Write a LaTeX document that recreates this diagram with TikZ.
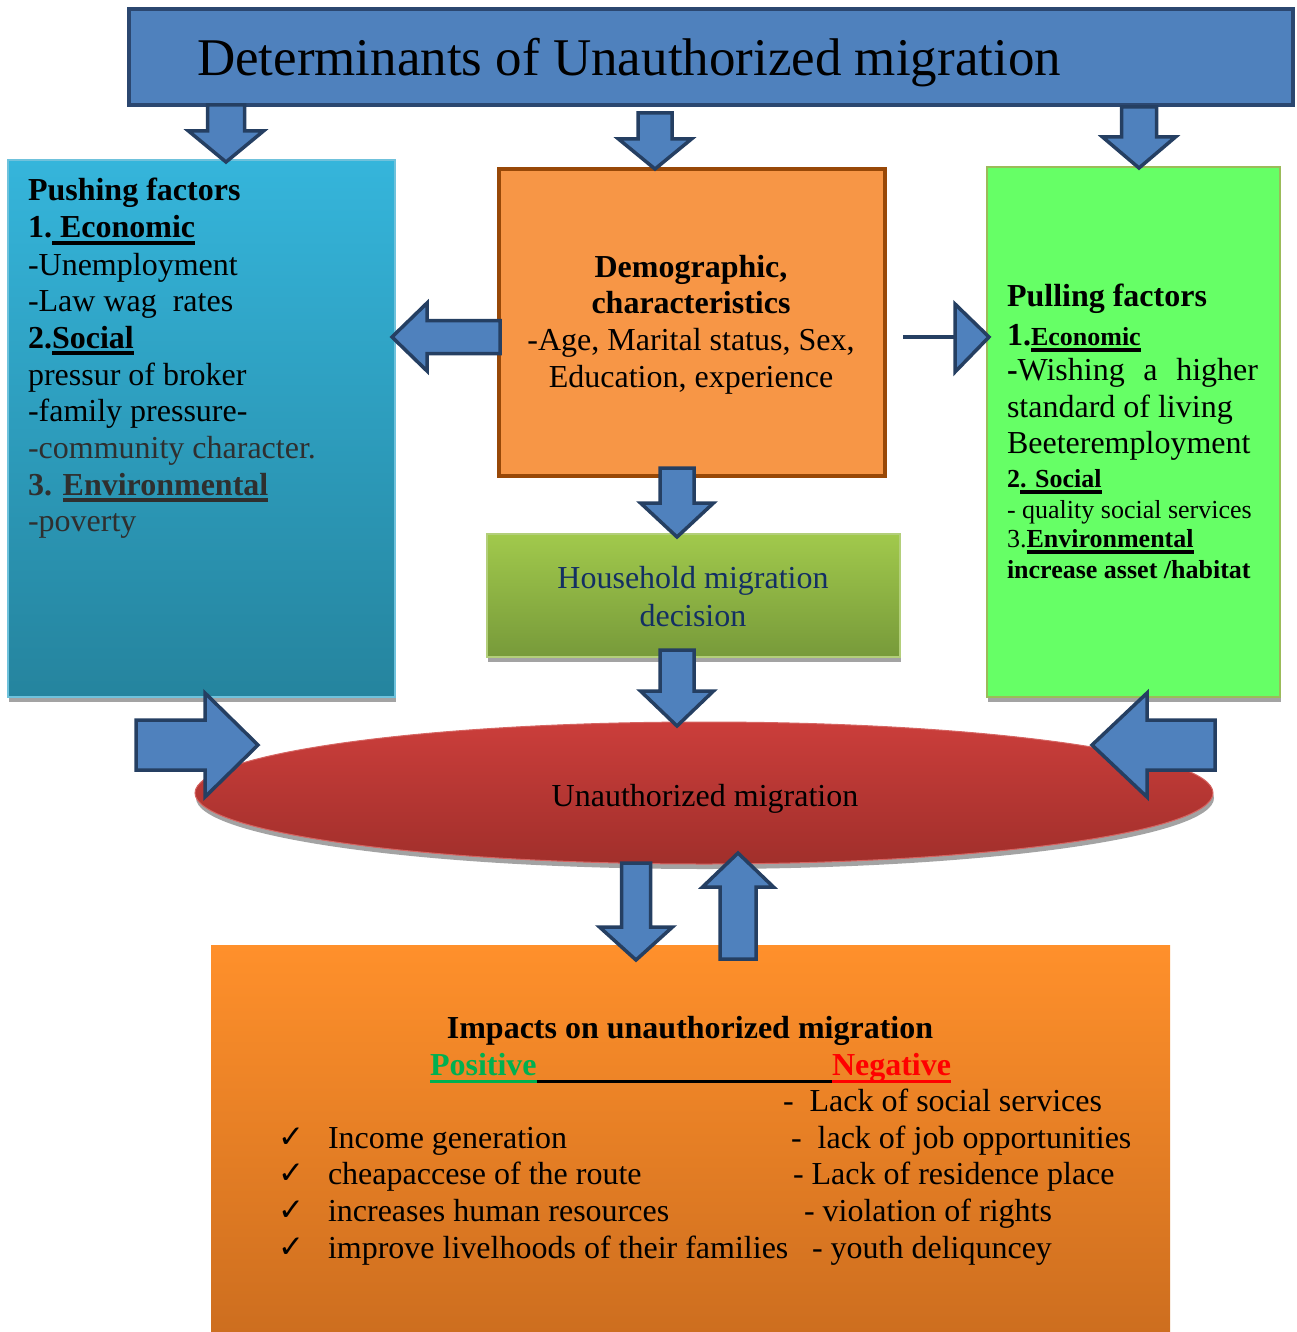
\documentclass[tikz,border=0pt]{standalone}
\usepackage{fontspec}
\setmainfont{Liberation Serif}
\newfontfamily\symfont{DejaVu Sans}
\newsavebox{\ulbox}
\newcommand{\myul}[1]{\sbox{\ulbox}{#1}\rlap{\rule[-6.5pt]{\wd\ulbox}{3.2pt}}\usebox{\ulbox}}
\usetikzlibrary{shapes.geometric,shadows}
\definecolor{arrowfill}{HTML}{4F81BD}
\definecolor{arrowline}{HTML}{253F62}
\definecolor{titleline}{HTML}{2B4770}
\definecolor{pushtop}{HTML}{35B5DB}
\definecolor{pushbot}{HTML}{25849E}
\definecolor{pushline}{HTML}{6FC2DC}
\definecolor{demofill}{HTML}{F79646}
\definecolor{demoline}{HTML}{984807}
\definecolor{hhtop}{HTML}{A1C94C}
\definecolor{hhbot}{HTML}{779A3A}
\definecolor{hhline}{HTML}{B3CF7A}
\definecolor{hhtext}{HTML}{132F63}
\definecolor{pullfill}{HTML}{66FF66}
\definecolor{pullline}{HTML}{9BBB59}
\definecolor{elltop}{HTML}{CB3E3B}
\definecolor{ellbot}{HTML}{A12F2B}
\definecolor{botop}{HTML}{FF902B}
\definecolor{bobot}{HTML}{CD6E1F}
\definecolor{graytext}{HTML}{2F2F2F}
\definecolor{posgreen}{HTML}{00B050}
\definecolor{negred}{HTML}{FF0000}
\definecolor{shadowgray}{HTML}{A3A3A3}
\begin{document}
\begin{tikzpicture}[x=1pt,y=-1pt,
  box/.style={inner sep=0, outer sep=0, anchor=north west},
  myshadow/.style={drop shadow={shadow xshift=1pt, shadow yshift=-5pt, fill=shadowgray, opacity=1}},
  txt/.style={inner sep=0, outer sep=0, anchor=base west, font=\fontsize{32}{37}\selectfont},
  ctxt/.style={txt, anchor=base},
  stxt/.style={txt, font=\fontsize{26}{30}\selectfont},
  barrowsty/.style={fill=arrowfill, draw=arrowline, line width=3.5pt, line join=miter},
  pics/barrow/.style n args={4}{code={
    \path[barrowsty] (0,-#1) -- ({#3-#4},-#1) -- ({#3-#4},-#2) -- (#3,0)
      -- ({#3-#4},#2) -- ({#3-#4},#1) -- (0,#1) -- cycle;}},
  uline/.style={line width=3pt}
]
\useasboundingbox (0,0) rectangle (1296,1332);

% ---------- boxes ----------
\node[box, fill=arrowfill, draw=titleline, line width=4pt,
      minimum width=1164pt, minimum height=96pt] (title) at (129,9) {};
\node[box, myshadow, top color=pushtop, bottom color=pushbot, draw=pushline, line width=1.5pt,
      minimum width=387pt, minimum height=537pt] (push) at (8,160) {};
\node[box, fill=demofill, draw=demoline, line width=4pt,
      minimum width=386pt, minimum height=307pt] (demo) at (499,169) {};
\node[box, myshadow, top color=hhtop, bottom color=hhbot, draw=hhline, line width=1.5pt,
      minimum width=413pt, minimum height=123pt] (house) at (487,534) {};
\node[box, myshadow, fill=pullfill, draw=pullline, line width=2pt,
      minimum width=293pt, minimum height=530pt] (pull) at (987,167) {};
\node[ellipse, inner sep=0, myshadow, top color=elltop, bottom color=ellbot, draw=elltop!80!white, line width=1pt,
      minimum width=1018pt, minimum height=142pt] (mig) at (704,793) {};
\node[box, top color=botop, bottom color=bobot,
      minimum width=959pt, minimum height=388pt] (impact) at (211,945) {};

% ---------- block arrows ----------
\pic[rotate=-90] at (226,105) {barrow={18.5}{37.5}{57}{31}};
\pic[rotate=-90] at (655,113) {barrow={17}{36.5}{56}{30}};
\pic[rotate=-90] at (1139,107) {barrow={17.5}{36.5}{61}{31}};
\pic[rotate=180] at (500,337) {barrow={16.5}{34}{108}{35}};
\pic[rotate=-90] at (677,468) {barrow={17}{36.5}{69}{34}};
\pic[rotate=-90] at (677,650) {barrow={17}{36.5}{76}{35}};
\pic at (136,745) {barrow={25}{52}{122}{53}};
\pic[rotate=180] at (1215,745) {barrow={25}{52}{123}{55}};
\pic[rotate=-90] at (636,863) {barrow={14.5}{36.5}{97}{33}};
\pic[rotate=90] at (738,959) {barrow={18}{35.5}{106}{34}};
% demographic -> pulling (thin shaft)
\coordinate (rs) at (903,337);
\coordinate (rh) at (955,337);
\draw[arrowline, line width=4pt] (rs) -- (rh);
\path[barrowsty] (955,304) -- (989,337) -- (955,372) -- cycle;

% ---------- title ----------
\node[txt, font=\fontsize{53}{60}\selectfont] (ttl) at (197,76) {Determinants of Unauthorized migration};

% ---------- pushing factors ----------
\node[txt] (p1) at (28,201) {\textbf{Pushing factors}};
\node[txt] (p2) at (28,238) {\textbf{1.\myul{~Economic}}};
\node[txt] (p3) at (28,275) {-Unemployment};
\node[txt] (p4) at (28,311) {-Law wag\ \ rates};
\node[txt] (p5) at (28,348) {\textbf{2.\myul{Social}}};
\node[txt] (p6) at (28,385) {pressur of broker};
\node[txt] (p7) at (28,421) {-family pressure-};
\node[txt, text=graytext] (p8) at (28,458) {-community character.};
\node[txt, text=graytext] (p9) at (28,495) {\textbf{3. \myul{Environmental}}};
\node[txt, text=graytext] (p10) at (28,531) {-poverty};

% ---------- demographic ----------
\node[ctxt] (d1) at (691,277) {\textbf{Demographic,}};
\node[ctxt] (d2) at (691,313) {\textbf{characteristics}};
\node[ctxt] (d3) at (691,350) {-Age, Marital status, Sex,};
\node[ctxt] (d4) at (691,387) {Education, experience};

% ---------- household ----------
\node[ctxt, text=hhtext] (h1) at (693,588) {Household migration};
\node[ctxt, text=hhtext] (h2) at (693,626) {decision};

% ---------- pulling factors ----------
\node[txt] (q1) at (1007,306) {\textbf{Pulling factors}};
\node[txt] (q2) at (1007,345) {\textbf{1.}{\fontsize{26}{30}\selectfont\textbf{\myul{Economic}}}};
\node[txt] (q3) at (1007,380) {\makebox[251pt][s]{\textbf{-}Wishing a higher}};
\node[txt] (q4) at (1007,417) {standard of living};
\node[txt] (q5) at (1007,453) {Beeteremployment};
\node[stxt] (q6) at (1007,487) {\textbf{2\myul{. Social}}};
\node[stxt] (q7) at (1007,518) {- quality social services};
\node[stxt] (q8) at (1007,547) {3.\textbf{\myul{Environmental}}};
\node[stxt] (q9) at (1007,578) {\textbf{increase asset /habitat}};

% ---------- unauthorized migration ----------
\node[ctxt] (m1) at (705,806) {Unauthorized migration};

% ---------- impacts ----------
\node[ctxt] (i1) at (690,1038) {\textbf{Impacts on unauthorized migration}};
\node[txt, text=posgreen] (pos) at (430,1075) {\textbf{Positive}};
\node[txt, text=negred] (neg) at (832,1075) {\textbf{Negative}};
\draw[uline, posgreen] ([yshift=-6.5pt]pos.base west) -- ([yshift=-6.5pt]pos.base east);
\draw[uline, black] ([yshift=-6.5pt]pos.base east) -- ([yshift=-6.5pt]neg.base west);
\draw[uline, negred] ([yshift=-6.5pt]neg.base west) -- ([yshift=-6.5pt]neg.base east);

\node[txt] (n1) at (783,1111) {-\ \ Lack of social services};
\node[txt] (n2) at (791,1148) {-\ \ lack of job opportunities};
\node[txt] (n3) at (793,1184) {- Lack of residence place};
\node[txt] (n4) at (804,1221) {- violation of rights};
\node[txt] (n5) at (812,1258) {- youth deliquncey};

\foreach \yy/\nm in {1148/c1,1184/c2,1221/c3,1258/c4}{
  \node[txt, font=\symfont\fontsize{31}{34}\selectfont] (\nm) at (278,\yy-1) {✓};
}
\node[txt] (g1) at (328,1148) {Income generation};
\node[txt] (g2) at (328,1184) {cheapaccese of the route};
\node[txt] (g3) at (328,1221) {increases human resources};
\node[txt] (g4) at (328,1258) {improve livelhoods of their families};
\end{tikzpicture}
\end{document}
